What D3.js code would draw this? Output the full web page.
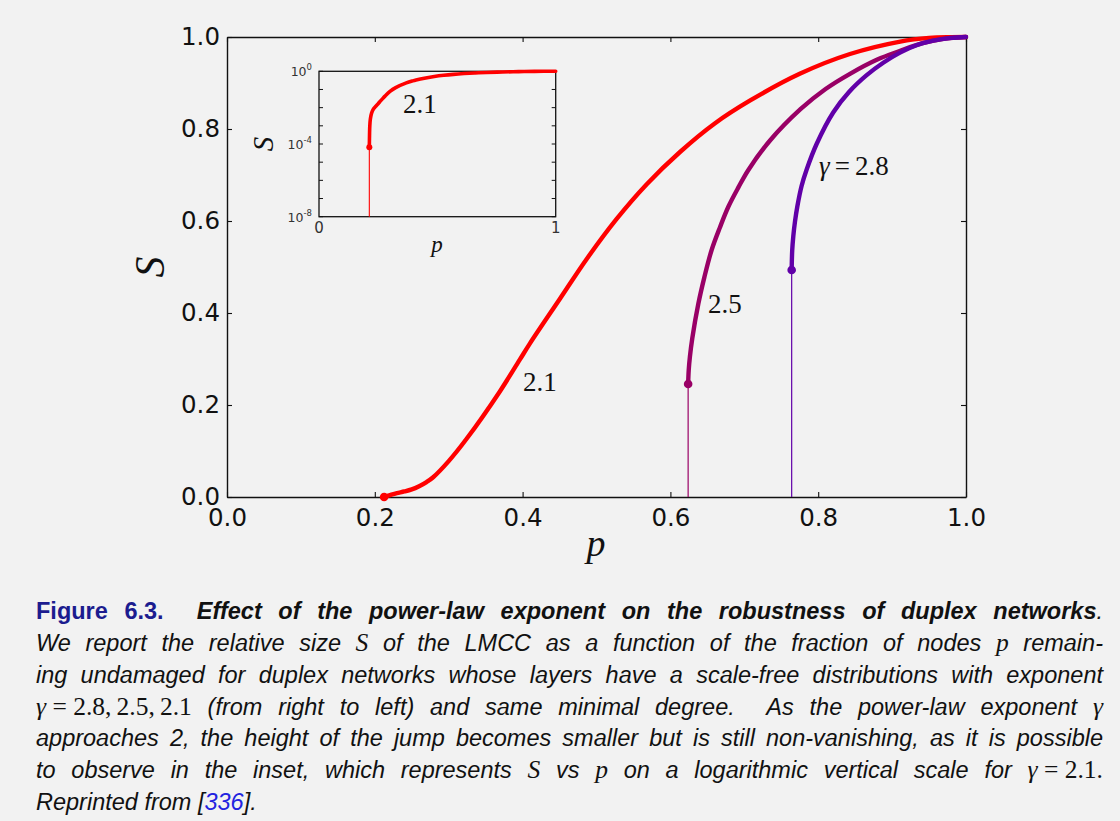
<!DOCTYPE html>
<html>
<head>
<meta charset="utf-8">
<script src="https://cdn.jsdelivr.net/npm/d3@7"></script>
<style>
  html, body { margin: 0; padding: 0; background: #f2f2f2; }
  svg { display: block; }
  .tick text { font-family: "DejaVu Sans", sans-serif; }
  .cap text { font-family: "Liberation Sans", Arial, sans-serif; font-size: 23.5px; white-space: pre; }
  .cap .it { font-style: italic; fill: #111; }
  .cap .bi { font-style: italic; font-weight: bold; fill: #111; }
  .cap .fig { font-weight: bold; fill: #1c1c8f; }
  .cap .link { font-style: italic; fill: #2323e0; }
  .cap .mi { font-family: "Liberation Serif", serif; font-style: italic; font-size: 25.5px; fill: #111; }
  .cap .mr { font-family: "Liberation Serif", serif; font-size: 25.5px; fill: #111; }
</style>
</head>
<body>
<svg id="fig" width="1120" height="821"></svg>
<script>
// Relative size S of the LMCC versus fraction p of undamaged nodes,
// one curve per power-law exponent gamma.
const pG21 = [0.2126, 0.2132, 0.2145, 0.2170, 0.2225, 0.2300, 0.2400, 0.2500, 0.2600, 0.2700,
              0.2790, 0.3000, 0.3240, 0.3690, 0.3960, 0.4100, 0.4510, 0.4870, 0.5270, 0.5680,
              0.6130, 0.6600, 0.7080, 0.7750, 0.8430, 0.9110, 0.9500, 0.9800, 1.0000];
const sG21 = [0.000066, 0.0002, 0.0009, 0.0024, 0.0052, 0.0085, 0.012, 0.0165, 0.0235, 0.0325,
              0.043, 0.078, 0.126, 0.229, 0.298, 0.334, 0.432, 0.518, 0.604, 0.680,
              0.750, 0.812, 0.862, 0.920, 0.963, 0.990, 0.998, 0.9997, 1.000];

const pG25 = [0.6240, 0.6248, 0.6264, 0.6296, 0.6378, 0.6460, 0.6558, 0.6670, 0.6784, 0.6920,
              0.7055, 0.7348, 0.7760, 0.8100, 0.8430, 0.8800, 0.9110, 0.9400, 0.9700, 1.0000];
const sG25 = [0.2457, 0.276, 0.305, 0.345, 0.420, 0.478, 0.537, 0.586, 0.631, 0.673,
              0.711, 0.775, 0.843, 0.887, 0.920, 0.951, 0.970, 0.986, 0.996, 1.000];

const pG28 = [0.7641, 0.7648, 0.7663, 0.7686, 0.7717, 0.7775, 0.7844, 0.7980, 0.8203, 0.8420,
              0.8656, 0.8880, 0.9107, 0.9330, 0.9553, 0.9800, 1.0000];
const sG28 = [0.4935, 0.535, 0.567, 0.599, 0.631, 0.676, 0.712, 0.768, 0.836, 0.881,
              0.917, 0.944, 0.966, 0.982, 0.992, 0.998, 1.000];

const seriesColors = ["#ff0000", "#990066", "#6100a8"];
const xTickValues = [0, 0.2, 0.4, 0.6, 0.8, 1.0];
const yTickValues = [0, 0.2, 0.4, 0.6, 0.8, 1.0];
const insetDecades = [0, -1, -2, -3, -4, -5, -6, -7, -8];
const insetLabelledDecades = [0, -4, -8];
const insetXTicks = [0, 1];

const series = [
  { p: pG21, s: sG21, color: seriesColors[0] },
  { p: pG25, s: sG25, color: seriesColors[1] },
  { p: pG28, s: sG28, color: seriesColors[2] }
];

const svg = d3.select("#fig");
svg.append("rect").attr("width", 1120).attr("height", 821).attr("fill", "#f2f2f2");

// ---------- main panel ----------
const x = d3.scaleLinear().domain([0, 1]).range([227, 966]);
const y = d3.scaleLinear().domain([0, 1]).range([497, 37]);
const fmt = d3.format(".1f");

function styleAxis(g, showLabels) {
  g.select(".domain").attr("stroke", "#111").attr("stroke-width", 1.4);
  g.selectAll(".tick line").attr("stroke", "#111").attr("stroke-width", 1.1);
  g.selectAll(".tick text").attr("fill", "#111").attr("font-family", null).style("font-size", "24.5px");
  if (!showLabels) g.selectAll(".tick text").remove();
}

svg.append("g").attr("transform", "translate(0,497)")
  .call(d3.axisBottom(x).tickValues(xTickValues).tickFormat(fmt).tickSize(-5).tickSizeOuter(0).tickPadding(12))
  .call(g => styleAxis(g, true));
svg.append("g").attr("transform", "translate(0,37)")
  .call(d3.axisTop(x).tickValues(xTickValues).tickSize(-5).tickSizeOuter(0))
  .call(g => styleAxis(g, false));
svg.append("g").attr("transform", "translate(227,0)")
  .call(d3.axisLeft(y).tickValues(yTickValues).tickFormat(fmt).tickSize(-5).tickSizeOuter(0).tickPadding(7))
  .call(g => styleAxis(g, true));
svg.append("g").attr("transform", "translate(966,0)")
  .call(d3.axisRight(y).tickValues(yTickValues).tickSize(-5).tickSizeOuter(0))
  .call(g => styleAxis(g, false));

// axis titles
svg.append("text").attr("transform", "translate(164,267) rotate(-90)")
  .attr("text-anchor", "middle").attr("font-family", "Liberation Serif, serif")
  .attr("font-style", "italic").attr("font-size", 42).attr("fill", "#111").text("S");
svg.append("text").attr("x", 596).attr("y", 556)
  .attr("text-anchor", "middle").attr("font-family", "Liberation Serif, serif")
  .attr("font-style", "italic").attr("font-size", 38).attr("fill", "#111").text("p");

const mainLine = d3.line()
  .x(d => x(d[0])).y(d => y(d[1]))
  .curve(d3.curveCatmullRom.alpha(0.5));

series.forEach(sr => {
  const pts = sr.p.map((p, i) => [p, sr.s[i]]);
  // thin drop line at the jump
  svg.append("line")
    .attr("x1", x(pts[0][0])).attr("x2", x(pts[0][0]))
    .attr("y1", y(0)).attr("y2", y(pts[0][1]))
    .attr("stroke", sr.color).attr("stroke-width", 1.2);
  svg.append("path").datum(pts)
    .attr("d", mainLine).attr("fill", "none")
    .attr("stroke", sr.color).attr("stroke-width", 4.4)
    .attr("stroke-linecap", "round").attr("stroke-linejoin", "round");
  svg.append("circle")
    .attr("cx", x(pts[0][0])).attr("cy", y(pts[0][1])).attr("r", 4.3)
    .attr("fill", sr.color);
});

// curve labels
const lblFont = "Liberation Serif, serif";
svg.append("text").attr("x", 523).attr("y", 391).attr("font-family", lblFont)
  .attr("font-size", 27).attr("fill", "#111").text("2.1");
svg.append("text").attr("x", 708).attr("y", 313).attr("font-family", lblFont)
  .attr("font-size", 27).attr("fill", "#111").text("2.5");
const g28 = svg.append("text").attr("x", 819).attr("y", 175).attr("font-family", lblFont)
  .attr("font-size", 27).attr("fill", "#111");
g28.append("tspan").attr("font-style", "italic").text("γ");
g28.append("tspan").attr("dx", 5).text("=");
g28.append("tspan").attr("dx", 5).text("2.8");

// ---------- inset: logarithmic vertical scale for gamma = 2.1 ----------
const xi = d3.scaleLinear().domain([0, 1]).range([319, 555.7]);
const yi = d3.scaleLog().domain([1e-8, 1]).range([216.7, 71.3]);

const inset = svg.append("g");
inset.append("rect")
  .attr("x", xi(0)).attr("y", yi(1)).attr("width", xi(1) - xi(0)).attr("height", yi(1e-8) - yi(1))
  .attr("fill", "none").attr("stroke", "#111").attr("stroke-width", 1.3);

insetDecades.forEach(k => {
  const yy = yi(Math.pow(10, k));
  inset.append("line").attr("x1", xi(0)).attr("x2", xi(0) + 4).attr("y1", yy).attr("y2", yy)
    .attr("stroke", "#111").attr("stroke-width", 1);
  inset.append("line").attr("x1", xi(1)).attr("x2", xi(1) - 4).attr("y1", yy).attr("y2", yy)
    .attr("stroke", "#111").attr("stroke-width", 1);
});
insetLabelledDecades.forEach(k => {
  const yy = yi(Math.pow(10, k));
  const t = inset.append("text").attr("x", 312).attr("y", yy + 5)
    .attr("text-anchor", "end").attr("font-family", "DejaVu Sans, sans-serif")
    .attr("font-size", 12.5).attr("fill", "#333");
  t.append("tspan").text("10");
  t.append("tspan").attr("dy", -6).attr("font-size", 8.5).text(String(k));
});
insetXTicks.forEach(v => {
  inset.append("text").attr("x", xi(v)).attr("y", 233)
    .attr("text-anchor", "middle").attr("font-family", "DejaVu Sans, sans-serif")
    .attr("font-size", 15).attr("fill", "#333").text(String(v));
});
inset.append("text").attr("transform", "translate(273,144) rotate(-90)")
  .attr("text-anchor", "middle").attr("font-family", "Liberation Serif, serif")
  .attr("font-style", "italic").attr("font-size", 29).attr("fill", "#111").text("S");
inset.append("text").attr("x", 437).attr("y", 252)
  .attr("text-anchor", "middle").attr("font-family", "Liberation Serif, serif")
  .attr("font-style", "italic").attr("font-size", 23).attr("fill", "#111").text("p");

const insetPts = pG21.map((p, i) => [p, sG21[i]]);
const insetLine = d3.line().x(d => xi(d[0])).y(d => yi(d[1])).curve(d3.curveCatmullRom.alpha(0.5));
inset.append("line")
  .attr("x1", xi(insetPts[0][0])).attr("x2", xi(insetPts[0][0]))
  .attr("y1", yi(1e-8)).attr("y2", yi(insetPts[0][1]))
  .attr("stroke", seriesColors[0]).attr("stroke-width", 1.1);
inset.append("path").datum(insetPts).attr("d", insetLine)
  .attr("fill", "none").attr("stroke", seriesColors[0]).attr("stroke-width", 3.6)
  .attr("stroke-linecap", "round").attr("stroke-linejoin", "round");
inset.append("circle").attr("cx", xi(insetPts[0][0])).attr("cy", yi(insetPts[0][1]))
  .attr("r", 3).attr("fill", seriesColors[0]);
inset.append("text").attr("x", 403).attr("y", 113).attr("font-family", lblFont)
  .attr("font-size", 27).attr("fill", "#111").text("2.1");

// ---------- caption ----------
const captionLines = [
  "{fig|Figure} {fig|6.3.}  {bi|Effect} {bi|of} {bi|the} {bi|power-law} {bi|exponent} {bi|on} {bi|the} {bi|robustness} {bi|of} {bi|duplex} {bi|networks}.",
  "We report the relative size {mi|S} of the LMCC as a function of the fraction of nodes {mi|p} remain-",
  "ing undamaged for duplex networks whose layers have a scale-free distributions with exponent",
  "{mi|γ}{mr| = 2.8,\u20092.5,\u20092.1} (from right to left) and same minimal degree.  As the power-law exponent {mi|γ}",
  "approaches 2, the height of the jump becomes smaller but is still non-vanishing, as it is possible",
  "to observe in the inset, which represents {mi|S} vs {mi|p} on a logarithmic vertical scale for {mi|γ}{mr| = 2.1.}",
  "Reprinted from [{link|336}]."
];
const captionBaselines = [619, 651, 683, 715, 746, 778, 810];
const capLeft = 36, capRight = 1103;

function parseLine(str) {
  const re = /\{(\w+)\|([^}]*)\}|([^\s{]+)|(\s+)/g;
  const tokens = [];
  let cur = null, gap = 0, m;
  while ((m = re.exec(str))) {
    if (m[4]) { gap = m[4].length; cur = null; continue; }
    const run = m[1] ? { cls: m[1], text: m[2] } : { cls: "it", text: m[3] };
    if (!cur) { cur = { runs: [], gap: gap }; tokens.push(cur); gap = 0; }
    cur.runs.push(run);
  }
  return tokens;
}

const cap = svg.append("g").attr("class", "cap");
captionLines.forEach((str, li) => {
  const tokens = parseLine(str);
  const justify = li < captionLines.length - 1;
  const nodes = tokens.map(tok => {
    const t = cap.append("text").attr("y", captionBaselines[li]);
    tok.runs.forEach(r => t.append("tspan").attr("class", r.cls).text(r.text));
    return { t, w: t.node().getComputedTextLength(), gap: tok.gap };
  });
  const total = d3.sum(nodes, n => n.w);
  const weight = d3.sum(nodes.slice(1), n => n.gap);
  const unit = justify ? (capRight - capLeft - total) / weight : 6.5;
  let xPos = capLeft;
  nodes.forEach((n, i) => {
    if (i > 0) xPos += n.gap * unit;
    n.t.attr("x", xPos);
    xPos += n.w;
  });
});
</script>
</body>
</html>
